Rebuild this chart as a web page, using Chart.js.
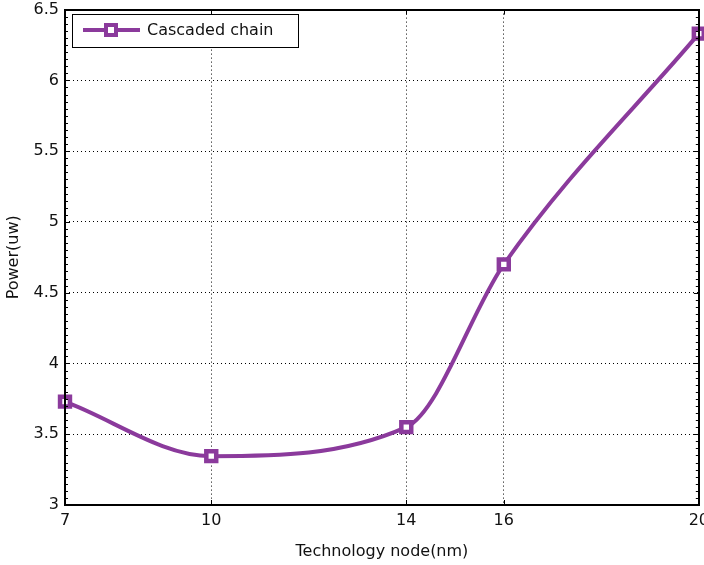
<!DOCTYPE html>
<html>
<head>
<meta charset="utf-8">
<script src="https://cdn.jsdelivr.net/npm/chart.js@4.4.1/dist/chart.umd.min.js"></script>
<style>
  html, body { margin: 0; padding: 0; background: #fff; overflow: hidden; }
  #wrap { width: 704px; height: 565px; overflow: hidden; position: relative; }
  #c { position: absolute; left: 0; top: -6px; }
</style>
</head>
<body>
<div id="wrap"><canvas id="c" width="715" height="571"></canvas></div>
<script>
// Technology node (nm) and measured power (uW) of the cascaded chain
const nodes = [7, 10, 14, 16, 20];
const power = [3.73, 3.345, 3.55, 4.70, 6.33];
const xTicks = [7, 10, 14, 16, 20];
const yTicks = [3, 3.5, 4, 4.5, 5, 5.5, 6, 6.5];
const seriesName = 'Cascaded chain';

const PURPLE = '#8b3a9c';
const FONT = '"DejaVu Sans", "Liberation Sans", sans-serif';

// Box frame, inward ticks (with minor ticks on the y axes) and the legend box
const framePlugin = {
  id: 'frame',
  afterDatasetsDraw(chart) {
    const { ctx, chartArea: a, scales } = chart;
    ctx.save();
    ctx.strokeStyle = '#000';
    ctx.lineWidth = 1;
    ctx.beginPath();
    xTicks.forEach(v => {
      const x = Math.round(scales.x.getPixelForValue(v)) + 0.5;
      ctx.moveTo(x, a.bottom); ctx.lineTo(x, a.bottom - 5);
      ctx.moveTo(x, a.top); ctx.lineTo(x, a.top + 5);
    });
    yTicks.forEach(v => {
      const y = Math.round(scales.y.getPixelForValue(v)) + 0.5;
      ctx.moveTo(a.left, y); ctx.lineTo(a.left + 5, y);
      ctx.moveTo(a.right, y); ctx.lineTo(a.right - 5, y);
    });
    const yMin = scales.y.min, yMax = scales.y.max;
    for (let k = 0; k <= Math.round((yMax - yMin) / 0.05); k++) {
      const y = Math.round(scales.y.getPixelForValue(yMin + k * 0.05)) + 0.5;
      ctx.moveTo(a.left, y); ctx.lineTo(a.left + 3, y);
      ctx.moveTo(a.right, y); ctx.lineTo(a.right - 3, y);
    }
    ctx.stroke();
    ctx.lineWidth = 2;
    ctx.strokeRect(Math.round(a.left), Math.round(a.top), Math.round(a.right - a.left), Math.round(a.bottom - a.top));

    // legend
    const bx = 72.5, by = 20.5, bw = 226, bh = 33;
    ctx.fillStyle = '#fff';
    ctx.fillRect(bx, by, bw, bh);
    ctx.strokeStyle = '#000';
    ctx.lineWidth = 1;
    ctx.strokeRect(bx, by, bw, bh);
    const ly = by + bh / 2 - 1;
    ctx.strokeStyle = PURPLE;
    ctx.lineWidth = 4;
    ctx.beginPath();
    ctx.moveTo(83, ly); ctx.lineTo(140, ly);
    ctx.stroke();
    ctx.fillStyle = '#fff';
    ctx.fillRect(106, ly - 5, 10, 10);
    ctx.lineWidth = 4;
    ctx.strokeRect(106, ly - 5, 10, 10);
    ctx.fillStyle = '#111';
    ctx.font = '16px ' + FONT;
    ctx.textBaseline = 'middle';
    ctx.textAlign = 'left';
    ctx.fillText(seriesName, 147, ly + 1);
    ctx.restore();
  }
};

new Chart(document.getElementById('c'), {
  type: 'line',
  data: {
    datasets: [{
      label: seriesName,
      data: nodes.map((n, i) => ({ x: n, y: power[i] })),
      borderColor: PURPLE,
      borderWidth: 4,
      cubicInterpolationMode: 'monotone',
      pointStyle: 'rect',
      pointRadius: 7,
      pointBorderWidth: 4.5,
      pointBackgroundColor: '#fff',
      pointBorderColor: PURPLE,
      clip: false
    }]
  },
  options: {
    responsive: false,
    animation: false,
    devicePixelRatio: 1,
    layout: { padding: { top: 6, right: 7, left: 0, bottom: 0 } },
    plugins: { legend: { display: false }, tooltip: { enabled: false } },
    scales: {
      x: {
        type: 'linear',
        min: 7, max: 20,
        afterBuildTicks(s) { s.ticks = xTicks.map(v => ({ value: v })); },
        afterFit(s) { s.height = 60; },
        grid: { color: '#000', lineWidth: 1, drawTicks: false },
        border: { display: false, dash: [1, 3] },
        ticks: { color: '#111', font: { family: FONT, size: 16 }, padding: 6, maxRotation: 0, autoSkip: false },
        title: { display: true, text: 'Technology node(nm)', color: '#111', font: { family: FONT, size: 16 }, padding: { top: 0 } }
      },
      y: {
        min: 3, max: 6.5,
        afterBuildTicks(s) { s.ticks = yTicks.map(v => ({ value: v })); },
        afterFit(s) { s.width = 65; },
        grid: { color: '#000', lineWidth: 1, drawTicks: false },
        border: { display: false, dash: [1, 3] },
        ticks: { color: '#111', font: { family: FONT, size: 16 }, padding: 6, callback: v => String(v) },
        title: { display: true, text: 'Power(uw)', color: '#111', font: { family: FONT, size: 16 }, padding: { bottom: 2 } }
      }
    }
  },
  plugins: [framePlugin]
});
</script>
</body>
</html>
